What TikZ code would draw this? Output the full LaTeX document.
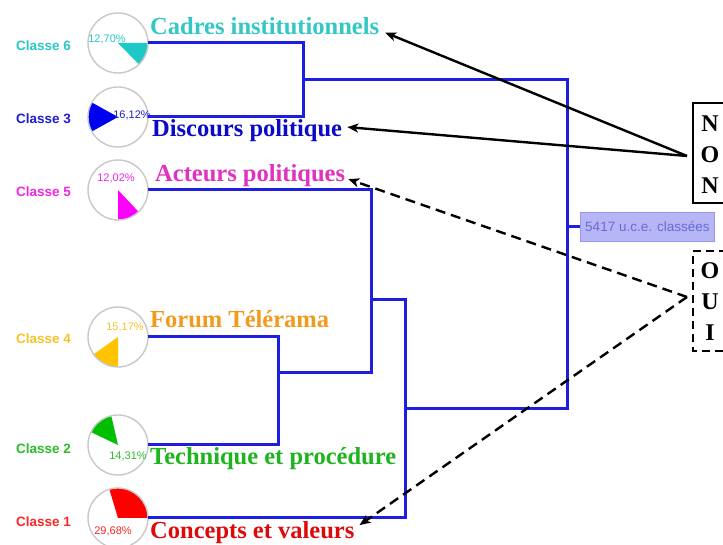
\documentclass[tikz,border=0pt]{standalone}
\usepackage{fontspec}
\setmainfont{Liberation Serif}
\newfontfamily\arialfont{Liberation Sans}
\usetikzlibrary{arrows.meta}
\definecolor{dendro}{RGB}{30,30,225}
\definecolor{tCadres}{RGB}{50,200,195}
\definecolor{tDiscours}{RGB}{10,10,200}
\definecolor{tActeurs}{RGB}{225,50,190}
\definecolor{tForum}{RGB}{240,155,30}
\definecolor{tTech}{RGB}{30,180,30}
\definecolor{tConcepts}{RGB}{220,10,10}
\definecolor{kSix}{RGB}{40,200,200}
\definecolor{kThree}{RGB}{30,30,210}
\definecolor{kFive}{RGB}{240,40,230}
\definecolor{kFour}{RGB}{245,195,40}
\definecolor{kTwo}{RGB}{40,190,40}
\definecolor{kOne}{RGB}{250,40,40}
\definecolor{wSix}{RGB}{30,200,200}
\definecolor{wThree}{RGB}{0,0,240}
\definecolor{wFive}{RGB}{255,0,255}
\definecolor{wFour}{RGB}{255,195,0}
\definecolor{wTwo}{RGB}{0,190,0}
\definecolor{wOne}{RGB}{255,0,0}
\definecolor{boxfill}{RGB}{182,182,246}
\definecolor{boxline}{RGB}{150,150,235}
\definecolor{boxtext}{RGB}{105,105,215}
\definecolor{ring}{RGB}{200,200,200}
\tikzset{
  piecirc/.style={circle, minimum size=60pt, inner sep=0pt, fill=white},
  ringline/.style={draw=ring, line width=1.4pt},
  classlbl/.style={font=\arialfont\bfseries\fontsize{13.5}{15}\selectfont, anchor=center},
  pctlbl/.style={font=\arialfont\fontsize{11}{12}\selectfont, anchor=center, inner sep=0pt},
  biglbl/.style={font=\bfseries\fontsize{24.5}{26}\selectfont, anchor=base west, inner sep=0pt},
  dend/.style={draw=dendro, line width=3pt, line join=miter},
  arr/.style={draw=black, line width=2.4pt, -{Stealth[length=11pt,width=9pt,inset=3pt]}},
  darr/.style={arr, dash pattern=on 10pt off 6pt},
  letter/.style={font=\bfseries\fontsize{24}{26}\selectfont, anchor=center, inner sep=0pt}
}
\begin{document}
\begin{tikzpicture}[x=1pt,y=1pt]
\useasboundingbox (0,0) rectangle (723,545);
\fill[white] (0,0) rectangle (723,545);

% pie circles
\node[piecirc] (c6) at (118,502) {};
\node[piecirc] (c3) at (118,428) {};
\node[piecirc] (c5) at (118,355) {};
\node[piecirc] (c4) at (118,208) {};
\node[piecirc] (c2) at (118,100) {};
\node[piecirc] (c1) at (118,27) {};

\fill[wSix] (c6.center) -- ++(0:30) arc[start angle=0, end angle=-45.7, radius=30] -- cycle;
\fill[wThree] (c3.center) -- ++(151:30) arc[start angle=151, end angle=209, radius=30] -- cycle;
\fill[wFive] (c5.center) -- ++(270:30) arc[start angle=270, end angle=313.3, radius=30] -- cycle;
\fill[wFour] (c4.center) -- ++(215.4:30) arc[start angle=215.4, end angle=270, radius=30] -- cycle;
\fill[wTwo] (c2.center) -- ++(103:30) arc[start angle=103, end angle=154.5, radius=30] -- cycle;
\fill[wOne] (c1.center) -- ++(0:30) arc[start angle=0, end angle=106.8, radius=30] -- cycle;

\foreach \c in {c6,c3,c5,c4,c2,c1} { \draw[ringline] (\c.center) circle[radius=30]; }

% percentages
\node[pctlbl, text=kSix] (p6) at (107,506) {12,70\%};
\node[pctlbl, text=kThree] (p3) at (132,430) {16,12\%};
\node[pctlbl, text=kFive] (p5) at (116,367) {12,02\%};
\node[pctlbl, text=kFour] (p4) at (125,218) {15,17\%};
\node[pctlbl, text=kTwo] (p2) at (128,89) {14,31\%};
\node[pctlbl, text=kOne] (p1) at (113,14) {29,68\%};

% class labels
\node[classlbl, text=kSix] (l6) at (43.5,499) {Classe 6};
\node[classlbl, text=kThree] (l3) at (43.5,426) {Classe 3};
\node[classlbl, text=kFive] (l5) at (43.5,353) {Classe 5};
\node[classlbl, text=kFour] (l4) at (43.5,206) {Classe 4};
\node[classlbl, text=kTwo] (l2) at (43.5,96) {Classe 2};
\node[classlbl, text=kOne] (l1) at (43.5,23) {Classe 1};

% dendrogram
\coordinate (j63) at (303,465);
\coordinate (jroot) at (567,318);
\coordinate (j42) at (278,172);
\coordinate (j542) at (371,245);
\coordinate (j512) at (405,136);
\node[draw=boxline, fill=boxfill, line width=0.8pt, minimum width=134pt, minimum height=29pt, anchor=west, inner sep=0pt,
      font=\arialfont\fontsize{13.5}{15}\selectfont, text=boxtext] (uce) at (580,318) {5417 u.c.e. classées};

\draw[dend] (c6.east) -| (j63) |- (c3.east);
\draw[dend] (j63) -| (jroot) |- (j512);
\draw[dend] (c4.east) -| (j42) |- (c2.east);
\draw[dend] (c5.east) -| (j542) |- (j42);
\draw[dend] (j542) -| (j512) |- (c1.east);
\draw[dend] (jroot) -- (uce.west);

% big labels
\node[biglbl, text=tCadres] (cadres) at (150,510) {Cadres institutionnels};
\node[biglbl, text=tDiscours] (discours) at (152,408) {Discours politique};
\node[biglbl, text=tActeurs] (acteurs) at (155,363) {Acteurs politiques};
\node[biglbl, text=tForum] (forum) at (150,217) {Forum Télérama};
\node[biglbl, text=tTech] (tech) at (150,80) {Technique et procédure};
\node[biglbl, text=tConcepts] (concepts) at (150,6) {Concepts et valeurs};

% NON / OUI boxes
\draw[line width=2.6pt] (740,442) -- (693,442) -- (693,342) -- (740,342);
\node[letter] (n1) at (710,421) {N};
\node[letter] (n2) at (710,390) {O};
\node[letter] (n3) at (710,359) {N};
\draw[line width=2.6pt, dash pattern=on 8pt off 5pt] (740,294) -- (693,294) -- (693,194) -- (740,194);
\node[letter] (o1) at (710,274) {O};
\node[letter] (o2) at (710,243) {U};
\node[letter] (o3) at (710,212) {I};

\coordinate (nonsrc) at (687,389);
\coordinate (ouisrc) at (687,248);

\draw[arr] (nonsrc) -- ([shift={(6pt,-6pt)}]cadres.east);
\draw[arr] (nonsrc) -- ([shift={(5pt,4pt)}]discours.east);
\draw[darr] (ouisrc) -- ([shift={(3pt,-3pt)}]acteurs.east);
\draw[darr] (ouisrc) -- ([shift={(5pt,8pt)}]concepts.east);
\end{tikzpicture}
\end{document}
